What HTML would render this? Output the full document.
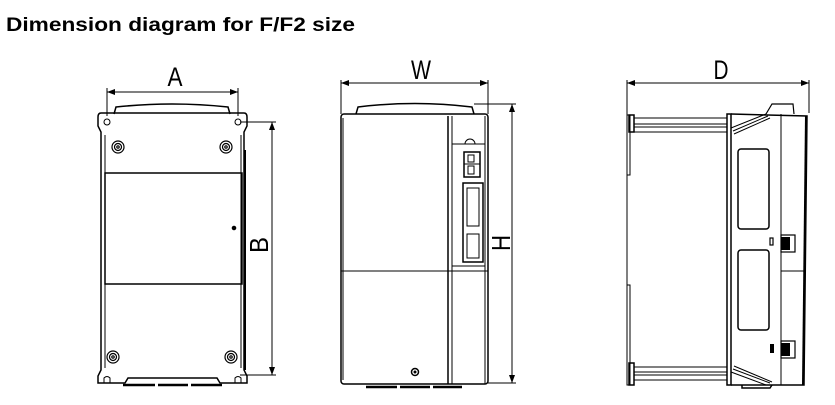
<!DOCTYPE html>
<html><head><meta charset="utf-8"><style>
html,body{margin:0;padding:0;background:#fff;}
svg{display:block;}
</style></head><body>
<svg width="835" height="405" viewBox="0 0 835 405" xmlns="http://www.w3.org/2000/svg">
<defs>
<marker id="ar" markerWidth="8" markerHeight="6" refX="8" refY="3" orient="auto-start-reverse" markerUnits="userSpaceOnUse">
<path d="M0,0 L8,3 L0,6 z" fill="#000"/></marker>
</defs>
<text x="6" y="31" font-family="Liberation Sans, Arial, sans-serif" font-weight="bold" font-size="19.5" textLength="349" lengthAdjust="spacingAndGlyphs" fill="#000">Dimension diagram for F/F2 size</text>

<g fill="none" stroke="#000" stroke-width="1">
<!-- ===== Front view ===== -->
<text x="175" y="86" font-family="Liberation Sans, sans-serif" font-size="27" text-anchor="middle" textLength="15" lengthAdjust="spacingAndGlyphs" fill="#000" stroke="none">A</text>
<line x1="107" y1="92" x2="238" y2="92" marker-start="url(#ar)" marker-end="url(#ar)"/>
<line x1="107" y1="88" x2="107" y2="116"/>
<line x1="238" y1="88" x2="238" y2="116"/>
<path d="M114,114 L116,107 Q172,101 228,107 L230,114" stroke-width="1.5"/>
<path d="M101,113 L244,113 Q247,113 247,117 L247,126 L244,132 L244,370 L247,376 L247,383 L220,383 L217,378 L128,378 L125,383 L98,383 L98,376 L101,370 L101,132 L98,126 L98,117 Q98,113 101,113 Z" stroke-width="1.5"/>
<line x1="105" y1="135" x2="105" y2="368"/>
<line x1="241" y1="135" x2="241" y2="368"/>
<rect x="243.5" y="150" width="2.5" height="220" fill="#000" stroke="none"/>
<circle cx="107" cy="122" r="3"/><circle cx="238" cy="122" r="3"/>
<path d="M104,383 L104,378 Q107,375 110,378 L110,383"/>
<path d="M235,383 L235,378 Q238,375 241,378 L241,383"/>
<g stroke-width="1.2">
<circle cx="118" cy="147" r="6"/><circle cx="118" cy="147" r="3.5"/><circle cx="118" cy="147" r="1.2"/>
<circle cx="226" cy="147" r="6"/><circle cx="226" cy="147" r="3.5"/><circle cx="226" cy="147" r="1.2"/>
<circle cx="113" cy="357" r="6"/><circle cx="113" cy="357" r="3.5"/><circle cx="113" cy="357" r="1.2"/>
<circle cx="231" cy="357" r="6"/><circle cx="231" cy="357" r="3.5"/><circle cx="231" cy="357" r="1.2"/>
</g>
<rect x="105" y="173" width="137" height="111" stroke-width="1.5"/>
<circle cx="234" cy="228" r="1.8" fill="#000"/>
<path d="M123,385 L155,385 M158,385 L188,385 M191,385 L222,385" stroke-width="2.5"/>
<line x1="240" y1="122" x2="276" y2="122"/>
<line x1="240" y1="375" x2="276" y2="375"/>
<line x1="272" y1="122" x2="272" y2="375" marker-start="url(#ar)" marker-end="url(#ar)"/>
<text x="0" y="0" transform="translate(268,245) rotate(-90)" font-family="Liberation Sans, sans-serif" font-size="26" text-anchor="middle" textLength="16" lengthAdjust="spacingAndGlyphs" fill="#000" stroke="none">B</text>

<!-- ===== Middle view ===== -->
<text x="421" y="79" font-family="Liberation Sans, sans-serif" font-size="27" text-anchor="middle" textLength="20" lengthAdjust="spacingAndGlyphs" fill="#000" stroke="none">W</text>
<line x1="341" y1="83" x2="488" y2="83" marker-start="url(#ar)" marker-end="url(#ar)"/>
<line x1="341" y1="80" x2="341" y2="114"/>
<line x1="488" y1="80" x2="488" y2="114"/>
<path d="M356,114 L358,107 Q415,100 472,107 L474,114" stroke-width="1.5"/>
<rect x="341" y="114" width="147" height="270" rx="3" stroke-width="1.5"/>
<line x1="343" y1="118" x2="343" y2="380"/>
<line x1="448" y1="116" x2="448" y2="384" stroke-width="1.5"/>
<line x1="452" y1="116" x2="452" y2="384"/>
<line x1="485" y1="116" x2="485" y2="384"/>
<line x1="341" y1="271" x2="488" y2="271"/>
<line x1="452" y1="144" x2="485" y2="144"/>
<path d="M465,144 A5,5 0 0 1 475,144"/>
<rect x="464" y="152" width="16" height="25" stroke-width="1.5"/>
<line x1="464" y1="164" x2="480" y2="164"/>
<rect x="468" y="155" width="6" height="7"/><rect x="468" y="166" width="6" height="8"/>
<rect x="463" y="183" width="20" height="79" stroke-width="1.5"/>
<rect x="467" y="188" width="12" height="38"/><rect x="467" y="234" width="12" height="24"/>
<line x1="452" y1="266" x2="485" y2="266"/>
<circle cx="415" cy="372" r="3.5" stroke-width="1.5"/><circle cx="415" cy="372" r="1" fill="#000"/>
<path d="M366,387 L397,387 M400,387 L430,387 M433,387 L462,387" stroke-width="2.5"/>
<line x1="474" y1="104" x2="516" y2="104"/>
<line x1="488" y1="383" x2="516" y2="383"/>
<line x1="512" y1="104" x2="512" y2="383" marker-start="url(#ar)" marker-end="url(#ar)"/>
<text x="0" y="0" transform="translate(510,243) rotate(-90)" font-family="Liberation Sans, sans-serif" font-size="26" text-anchor="middle" textLength="16" lengthAdjust="spacingAndGlyphs" fill="#000" stroke="none">H</text>

<!-- ===== Side view ===== -->
<text x="721" y="79" font-family="Liberation Sans, sans-serif" font-size="27" text-anchor="middle" textLength="15" lengthAdjust="spacingAndGlyphs" fill="#000" stroke="none">D</text>
<line x1="627" y1="83" x2="809" y2="83" marker-start="url(#ar)" marker-end="url(#ar)"/>
<line x1="627" y1="80" x2="627" y2="385"/>
<line x1="809" y1="80" x2="809" y2="113"/>
<rect x="627" y="115" width="3" height="60"/>
<rect x="627" y="285" width="3" height="100"/>
<rect x="629" y="115" width="5" height="17" stroke-width="1.5"/>
<rect x="629" y="363" width="5" height="22" stroke-width="1.5"/>
<g stroke-width="1">
<line x1="634" y1="118" x2="727" y2="118"/><line x1="634" y1="124" x2="727" y2="124"/>
<line x1="634" y1="127" x2="727" y2="127"/><line x1="634" y1="132" x2="727" y2="132"/>
<line x1="634" y1="367" x2="727" y2="367"/><line x1="634" y1="372" x2="727" y2="372"/>
<line x1="634" y1="375" x2="727" y2="375"/><line x1="634" y1="380" x2="727" y2="380"/>
</g>
<rect x="727" y="114" width="4" height="271" stroke-width="1.5"/>
<path d="M731,114 L807,116 L804,385 L731,385" stroke-width="1.5"/>
<line x1="806" y1="116" x2="803" y2="385" stroke-width="2"/>
<line x1="781" y1="114" x2="781" y2="385"/>
<line x1="781" y1="271" x2="806" y2="271"/>
<path d="M731,128 L766,114 M733,131 L768,116 M734,134 L770,118"/>
<path d="M731,372 L766,385 M733,369 L770,383 M734,366 L772,382"/>
<path d="M766,114 L772,104 L793,104 L794,114" stroke-width="1.2"/>
<path d="M742,385 L742,388 L770,388 L772,385" stroke-width="1.5"/>
<rect x="738" y="149" width="31" height="80" rx="3" stroke-width="1.5"/>
<rect x="738" y="250" width="31" height="80" rx="3" stroke-width="1.5"/>
<rect x="770" y="238" width="3" height="7" stroke-width="1.2"/>
<rect x="781" y="235" width="14" height="17" stroke-width="1.2"/>
<rect x="781" y="237" width="9" height="13" fill="#000" stroke="none"/>
<rect x="770" y="344" width="4" height="9" fill="#000" stroke="none"/>
<rect x="781" y="341" width="14" height="17" stroke-width="1.2"/>
<rect x="781" y="343" width="9" height="13" fill="#000" stroke="none"/>
</g>
</svg>
</body></html>
